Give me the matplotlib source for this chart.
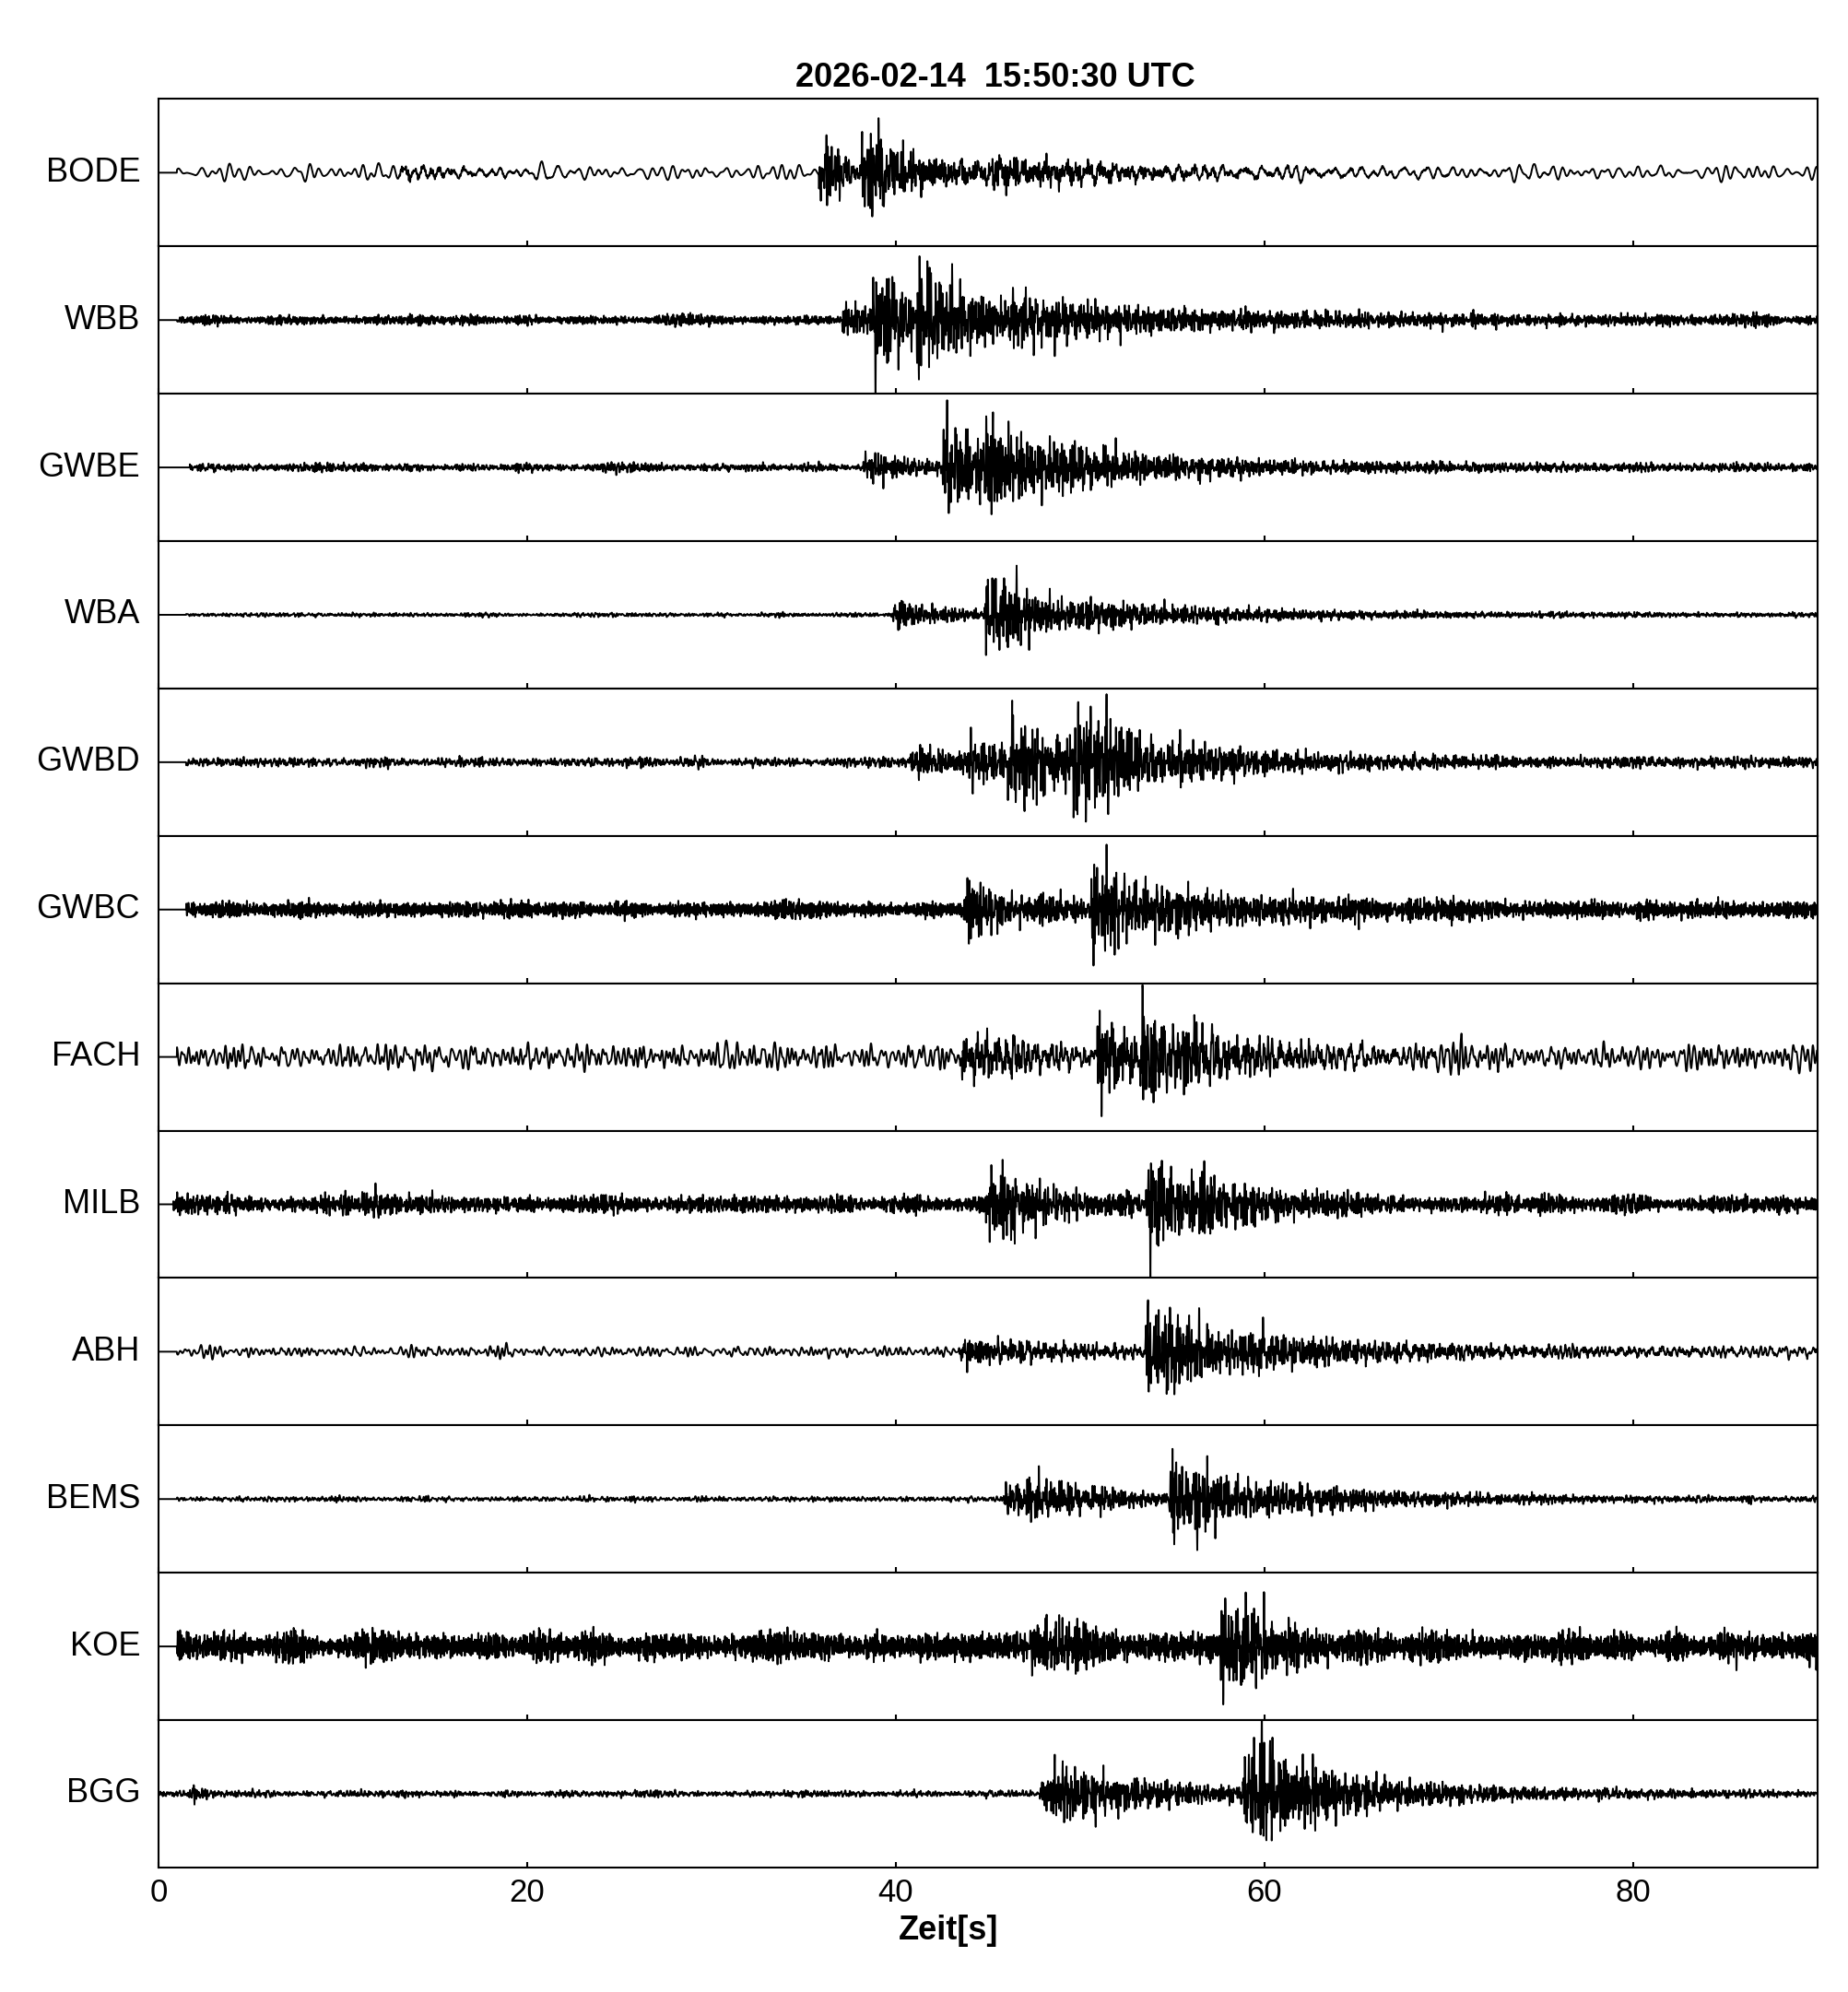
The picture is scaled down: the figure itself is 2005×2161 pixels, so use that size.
import numpy as np
import matplotlib
matplotlib.use('Agg')
import matplotlib.pyplot as plt

plt.rcParams['font.family'] = ['Liberation Sans', 'DejaVu Sans']

# Stations from top to bottom
stations = ['BODE', 'WBB', 'GWBE', 'WBA', 'GWBD', 'GWBC',
            'FACH', 'MILB', 'ABH', 'BEMS', 'KOE', 'BGG']

# time [s] where each trace starts wiggling
start_times = [1.0, 1.0, 1.7, 1.5, 1.5, 1.5, 1.0, 0.8, 1.0, 1.0, 1.0, 0.0]

# background noise, peak as fraction of half panel height
noise_levels = [0.11, 0.07, 0.06, 0.03, 0.07, 0.12, 0.20, 0.13, 0.08, 0.04, 0.21, 0.05]
noise_bands = [(0.7, 2.5), (2, 20), (1.5, 15), (1.5, 12), (1.5, 12), (3, 25),
               (1, 5), (2, 20), (1, 5), (1.5, 10), (3, 25), (1.5, 12)]

# wave arrivals: onset [s], peak amplitude, decay [s]
event_times = [
    [13.0, 35.8, 38.1, 38.5, 45.0],
    [37.0, 38.6, 41.0, 46.0],
    [38.2, 42.5, 44.5, 48.0],
    [39.8, 39.9, 44.8, 45.5, 50.0],
    [40.7, 43.8, 46.0, 49.5, 51.0, 55.0],
    [43.6, 43.8, 50.5, 54.0],
    [43.4, 50.8, 53.2, 55.0],
    [0.8, 9.0, 11.5, 44.8, 45.5, 53.5, 56.0],
    [43.4, 53.5, 54.5, 58.0],
    [45.8, 47.0, 54.8, 56.0, 60.0],
    [47.2, 48.0, 57.5, 58.5, 84.5],
    [1.5, 47.8, 48.5, 58.8, 59.5, 62.0],
]
event_amps = [
    [0.08, 0.85, 0.90, 0.45, 0.15],
    [0.30, 0.85, 0.55, 0.20],
    [0.25, 0.90, 0.55, 0.15],
    [0.45, 0.18, 0.85, 0.30, 0.08],
    [0.25, 0.30, 0.55, 0.90, 0.40, 0.12],
    [0.45, 0.25, 0.85, 0.20],
    [0.35, 0.85, 0.85, 0.30],
    [0.12, 0.18, 0.12, 0.75, 0.30, 0.90, 0.30],
    [0.22, 0.90, 0.35, 0.12],
    [0.30, 0.20, 0.90, 0.30, 0.08],
    [0.45, 0.20, 0.90, 0.30, 0.14],
    [0.20, 0.35, 0.25, 0.90, 0.45, 0.15],
]
event_decays = [
    [4, 1.2, 0.6, 5, 10],
    [2, 3, 5, 25],
    [4, 2, 5, 20],
    [0.3, 6, 1, 6, 25],
    [6, 3, 4, 1.5, 4, 30],
    [1, 8, 2.5, 20],
    [5, 1.5, 1.5, 8],
    [3, 3, 2, 1.2, 8, 2, 6],
    [8, 1.5, 6, 20],
    [3, 8, 1.2, 6, 20],
    [2, 10, 1.5, 6, 2],
    [1, 3, 12, 1.5, 4, 12],
]

x_ticks = [0, 20, 40, 60, 80]
t = np.arange(0, 90, 0.01)
PHI = (np.sqrt(5) - 1) / 2


def carrier(band, offset, n=140, spiky=0.0):
    # deterministic wideband wiggle, unit rms
    k = np.arange(n) + offset * n + 1
    freqs = band[0] + (band[1] - band[0]) * ((k * PHI) % 1)
    phases = 2 * np.pi * ((k * k * PHI * 0.37) % 1)
    s = np.sin(2 * np.pi * freqs[:, None] * t[None, :] + phases[:, None]).sum(0)
    s = s / s.std()
    if spiky:
        s = s * np.abs(s) ** spiky
    return s / s.std()


def trace(i):
    noise_env = np.where(t >= start_times[i], noise_levels[i], 0.0) / 2.6
    noise_env = noise_env * np.exp(0.18 * carrier((0.05, 0.4), 40 + i, n=20))
    ev_env = np.zeros_like(t)
    for t0, a, tau in zip(event_times[i], event_amps[i], event_decays[i]):
        dt = np.clip(t - t0, 0, None)
        ev_env += np.where(t >= t0, a / 2.6 * (1 - np.exp(-dt / 0.12)) * np.exp(-dt / tau), 0.0)
    return (noise_env * carrier(noise_bands[i], 2 * i)
            + ev_env * carrier((1.5, 20), 2 * i + 1, spiky=0.3))


fig, axes = plt.subplots(len(stations), 1, figsize=(20.05, 21.61), sharex=True,
                         gridspec_kw=dict(hspace=0))
fig.subplots_adjust(left=0.0858, right=0.9835, top=0.9503, bottom=0.0625)

for i, (ax, name) in enumerate(zip(axes, stations)):
    ax.plot(t, trace(i), color='black', lw=1.4)
    ax.set_xlim(0, 90)
    ax.set_ylim(-1, 1)
    ax.set_yticks([])
    ax.set_xticks(x_ticks)
    ax.tick_params(axis='x', direction='in', length=4.5, width=1.5,
                   labelbottom=False, labelsize=25, pad=8)
    for sp in ax.spines.values():
        sp.set_linewidth(1.5)
    ax.text(-0.011, 0.5, name, transform=ax.transAxes, ha='right', va='center', fontsize=26)

axes[-1].tick_params(axis='x', labelbottom=True)

fig.text(0.5387, 0.961, '2026-02-14  15:50:30 UTC', ha='center', va='center',
         fontsize=26, fontweight='bold')
fig.text(0.513, 0.0306, 'Zeit[s]', ha='center', va='center', fontsize=26, fontweight='bold')

fig.savefig('out.png', dpi=100)
